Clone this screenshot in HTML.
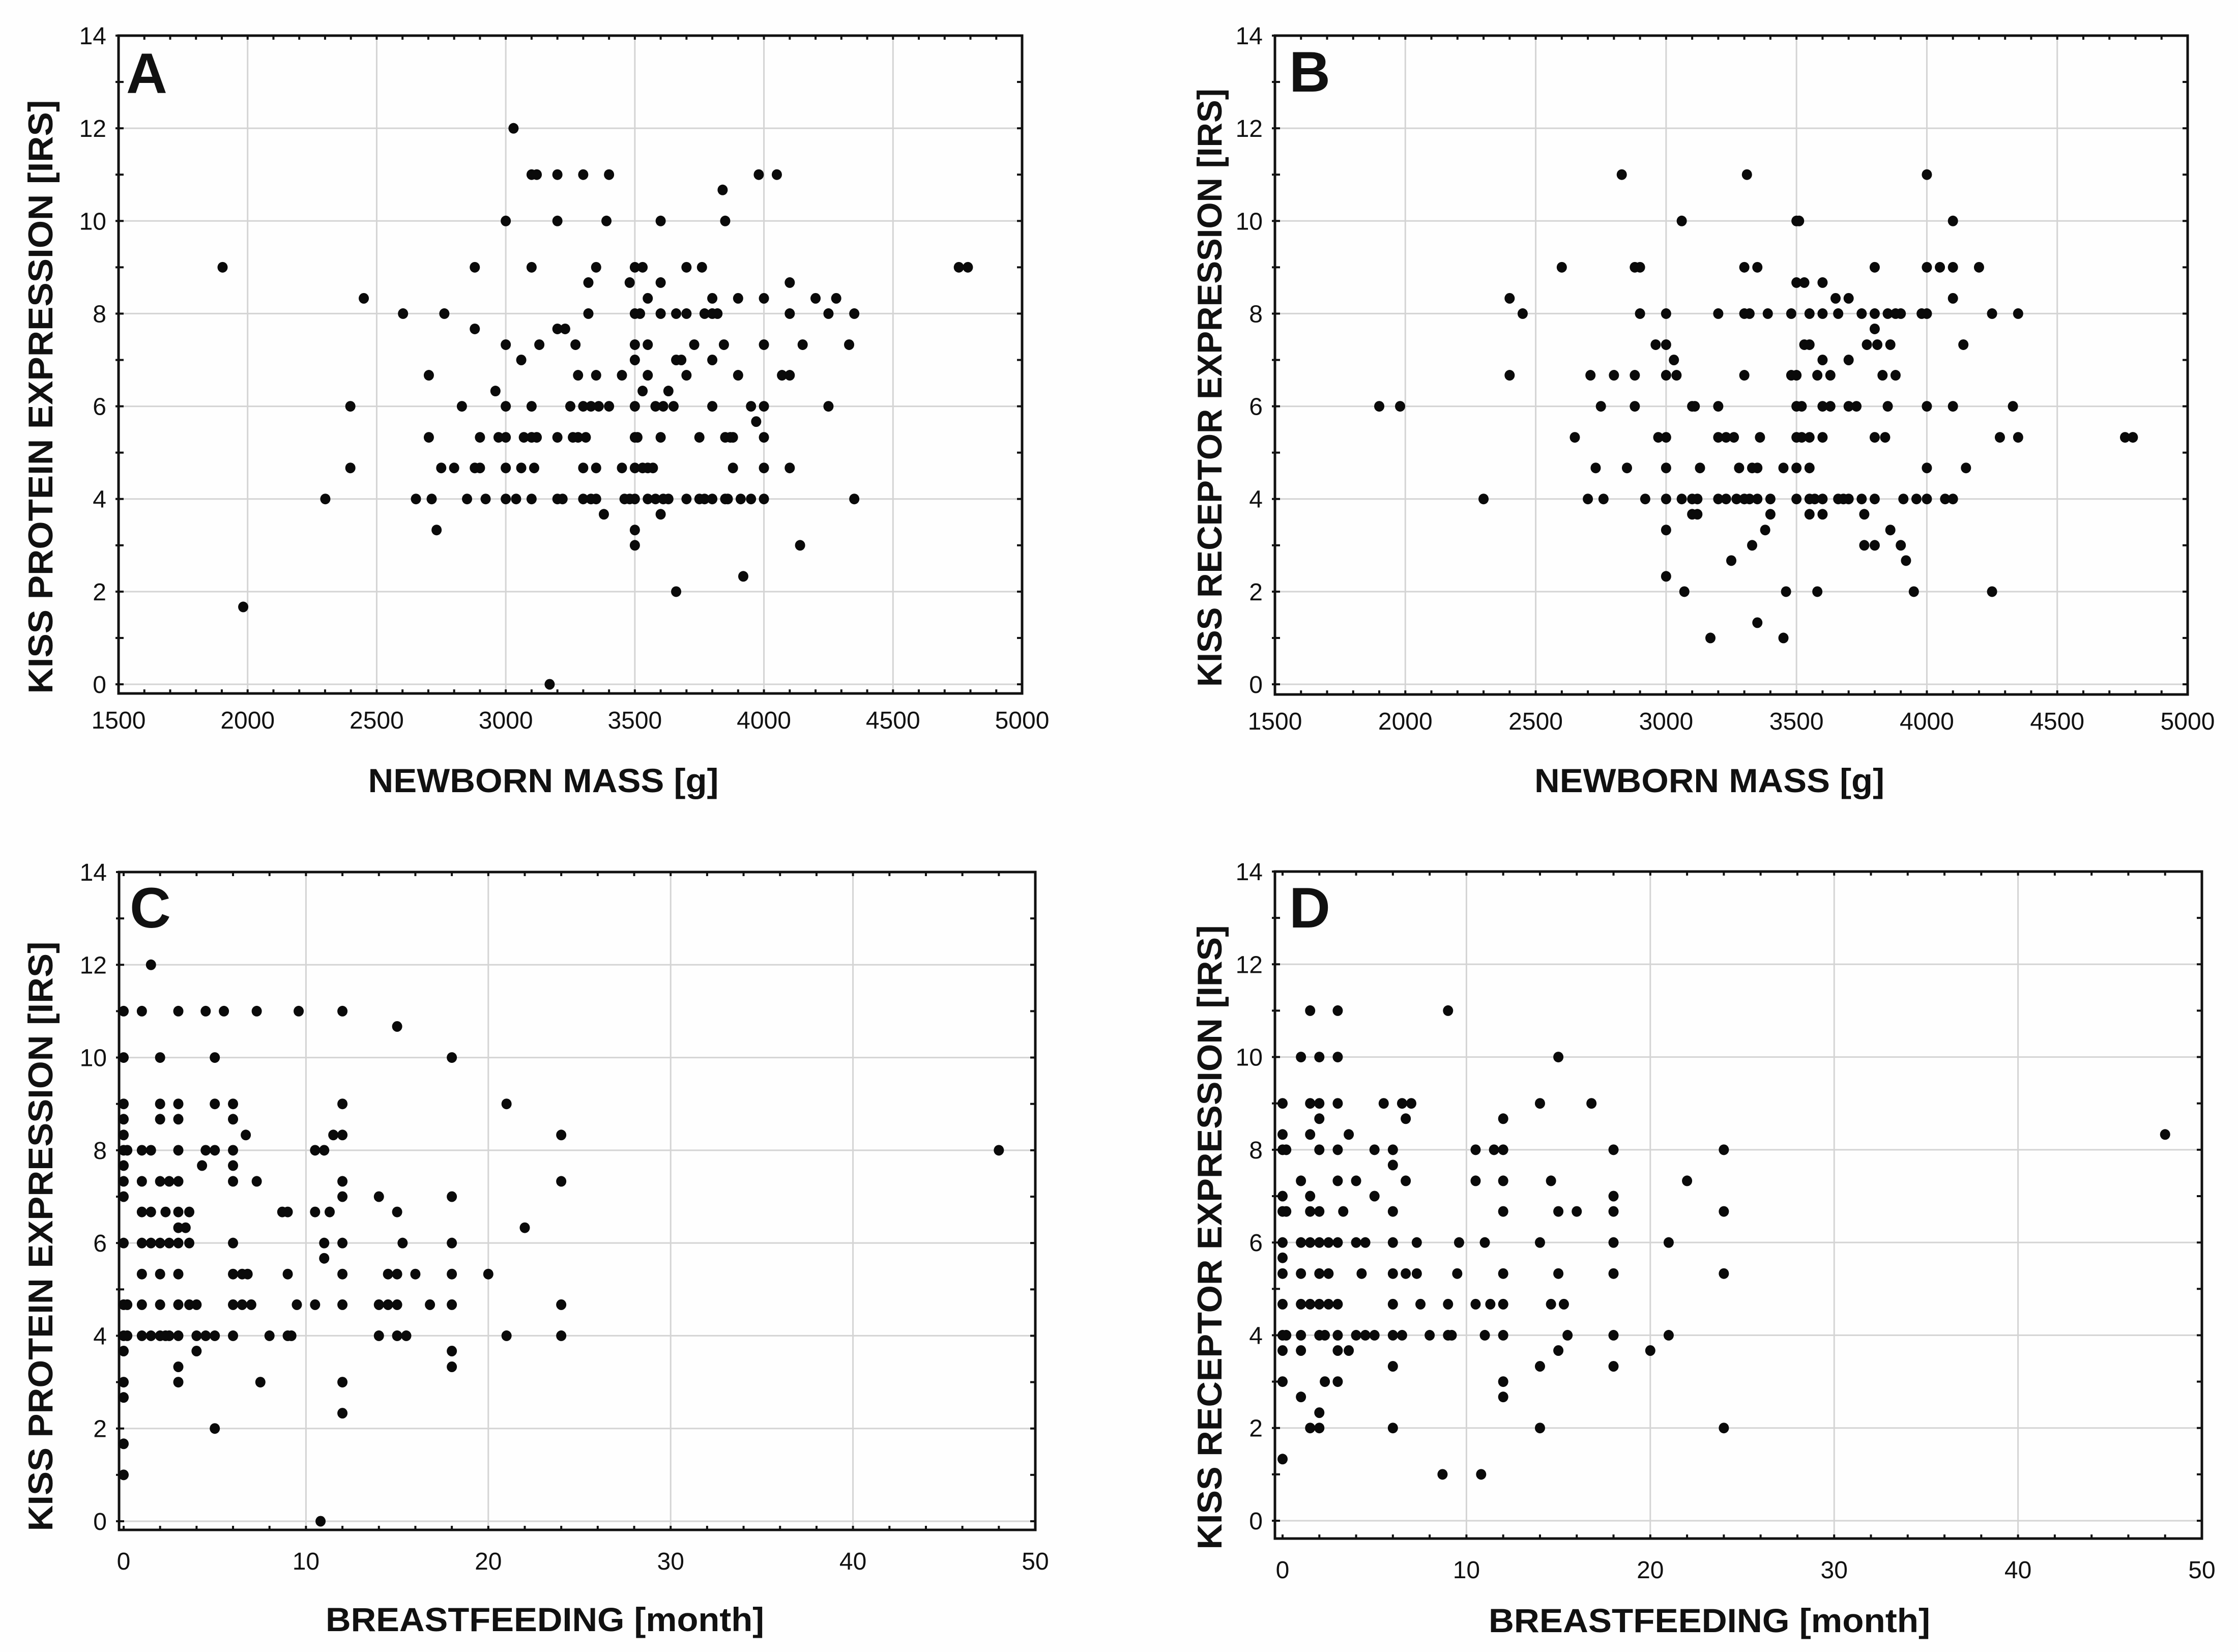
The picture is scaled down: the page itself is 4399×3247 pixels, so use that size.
<!DOCTYPE html>
<html><head><meta charset="utf-8">
<style>
html,body{margin:0;padding:0;background:#fefefe;}
svg{display:block;}
</style></head>
<body>
<svg id="chart" xmlns="http://www.w3.org/2000/svg" width="4399" height="3247" viewBox="0 0 4399 3247">
<rect x="0" y="0" width="4399" height="3247" fill="#fefefe"/>
</svg>
<script>
const aMass=[1903,1983,2301,2398,2398,2450,2602,2652,2702,2702,2713,2732,2750,2762,2800,2830,2850,2880,2880,2880,2900,2900,2922,2960,2972,3000,3000,3000,3000,3000,3000,3040,3030,3060,3060,3070,3100,3120,3100,3100,3100,3110,3100,3120,3130,3200,3200,3200,3230,3200,3200,3220,3170,3250,3260,3280,3270,3280,3300,3300,3330,3360,3400,3310,3300,3300,3330,3350,3320,3320,3350,3350,3350,3380,3390,3400,3450,3450,3460,3480,3500,3480,3500,3530,3500,3520,3500,3500,3500,3500,3510,3500,3530,3550,3570,3500,3500,3530,3550,3550,3550,3550,3580,3610,3630,3600,3600,3600,3580,3610,3600,3600,3630,3650,3660,3660,3680,3660,3700,3700,3700,3700,3730,3750,3750,3770,3760,3770,3800,3800,3820,3800,3800,3800,3840,3845,3850,3850,3870,3880,3850,3860,3880,3900,3900,3910,3920,3950,3950,3970,3980,4000,4000,4000,4000,4000,4000,4050,4070,4100,4100,4100,4100,4140,4150,4200,4250,4250,4280,4330,4350,4350,4755,4790];
const aIrs=[9,1.67,4,4.67,6,8.33,8,4,6.67,5.33,4,3.33,4.67,8,4.67,6,4,9,7.67,4.67,4.67,5.33,4,6.33,5.33,5.33,10,7.33,6,4.67,4,4,12,7,4.67,5.33,11,11,9,6,4,4.67,5.33,5.33,7.33,11,10,7.67,7.67,5.33,4,4,0,6,5.33,5.33,7.33,6.67,11,6,6,6,6,5.33,4.67,4,4,4,8.67,8,9,6.67,4.67,3.67,10,11,6.67,4.67,4,4,4,8.67,9,9,8,8,7.33,7,6,5.33,5.33,4.67,4.67,4.67,4.67,3.33,3,6.33,8.33,7.33,6.67,4,4,4,4,10,8.67,8,6,6,5.33,3.67,6.33,6,8,7,7,2,9,8,6.67,4,7.33,5.33,4,4,9,8,8.33,8,8,7,6,4,10.67,7.33,10,5.33,5.33,5.33,4,4,4.67,8.33,6.67,4,2.33,6,4,5.67,11,8.33,7.33,6,5.33,4.67,4,11,6.67,6.67,8.67,8,4.67,3,7.33,8.33,8,6,8.33,7.33,8,4,9,9];

const bMass=[1900,1980,2300,2400,2400,2450,2600,2650,2700,2710,2730,2750,2760,2800,2830,2850,2880,2900,2880,2880,2900,2920,2960,2970,3000,3000,3000,3000,3000,3000,3000,3000,3030,3040,3060,3060,3070,3100,3110,3100,3120,3100,3120,3130,3170,3200,3200,3200,3230,3260,3200,3230,3250,3270,3280,3300,3300,3320,3300,3300,3320,3310,3330,3350,3330,3350,3350,3350,3360,3380,3390,3400,3400,3450,3450,3460,3480,3480,3500,3500,3510,3500,3530,3500,3520,3500,3520,3550,3500,3500,3530,3550,3550,3550,3550,3570,3550,3580,3580,3600,3600,3600,3600,3630,3600,3600,3600,3630,3650,3660,3660,3680,3700,3700,3700,3700,3730,3750,3750,3760,3760,3770,3800,3800,3800,3800,3800,3800,3810,3830,3840,3850,3850,3860,3860,3880,3900,3880,3900,3910,3920,3950,3960,3980,4000,4000,4000,4000,4000,4000,4050,4070,4100,4100,4100,4100,4100,4140,4150,4200,4250,4250,4280,4330,4350,4350,4760,4790];
const bIrs=[6,6,4,8.33,6.67,8,9,5.33,4,6.67,4.67,6,4,6.67,11,4.67,9,9,6.67,6,8,4,7.33,5.33,5.33,7.33,8,6.67,4.67,4,3.33,2.33,7,6.67,10,4,2,6,6,4,4,3.67,3.67,4.67,1,8,6,5.33,5.33,5.33,4,4,2.67,4,4.67,9,8,8,6.67,4,4,11,4.67,4.67,3,9,4,1.33,5.33,3.33,8,4,3.67,4.67,1,2,8,6.67,6.67,10,10,8.67,8.67,6,6,5.33,5.33,5.33,4.67,4,7.33,7.33,8,4.67,4,4,3.67,6.67,2,8.67,8,7,6,6,5.33,4,3.67,6.67,8.33,8,4,4,4,8.33,7,6,6,8,4,3.67,3,7.33,9,8,7.67,5.33,4,3,7.33,6.67,5.33,8,6,7.33,3.33,8,8,6.67,3,4,2.67,2,4,8,8,11,9,6,4.67,4,9,4,10,9,8.33,6,4,7.33,4.67,9,8,2,5.33,6,8,5.33,5.33,5.33];

const cMonths=[0,0,0,0,0,0,0,0,0,0,0,0,0,0,0,0,0,0.2,0.2,0.2,1.5,1,3,4.5,5.5,7.3,9.6,12,15,2,5,18,2,3,5,6,12,21,2,3,6,6.7,11.5,12,24,1,1.5,3,4.5,5,6,10.5,11,48,4.3,6,1,2,2.5,3,6,7.3,12,24,12,14,18,1,1.5,2.3,3,3.6,8.7,9,10.5,11.3,15,3,3.4,22,1,1.5,2,2.5,3,3.6,6,11,12,15.3,18,11,1,2,3,6,6.5,6.8,9,12,14.5,15,16,18,20,1,2,3,3.6,4,6,6.5,7,9.5,10.5,12,14,14.5,15,16.8,18,24,1,1.5,2,2.3,2.5,3,4,4.5,5,6,8,9,9.2,14,15,15.5,21,24,4,18,3,18,3,7.5,12,12,5,10.8];
const cIrs=[11,10,9,8.67,8.33,8,7.67,7.33,7,6,4.67,4,3.67,3,2.67,1.67,1,8,4.67,4,12,11,11,11,11,11,11,11,10.67,10,10,10,9,9,9,9,9,9,8.67,8.67,8.67,8.33,8.33,8.33,8.33,8,8,8,8,8,8,8,8,8,7.67,7.67,7.33,7.33,7.33,7.33,7.33,7.33,7.33,7.33,7,7,7,6.67,6.67,6.67,6.67,6.67,6.67,6.67,6.67,6.67,6.67,6.33,6.33,6.33,6,6,6,6,6,6,6,6,6,6,6,5.67,5.33,5.33,5.33,5.33,5.33,5.33,5.33,5.33,5.33,5.33,5.33,5.33,5.33,4.67,4.67,4.67,4.67,4.67,4.67,4.67,4.67,4.67,4.67,4.67,4.67,4.67,4.67,4.67,4.67,4.67,4,4,4,4,4,4,4,4,4,4,4,4,4,4,4,4,4,4,3.67,3.67,3.33,3.33,3,3,3,2.33,2,0];

const dMonths=[1.5,3,9,1,2,3,15,0,1.5,2,3,5.5,6.5,7,14,16.8,2,6.7,12,0,1.5,3.6,48,0,0.2,2,3,5,6,10.5,11.5,12,18,24,6,1,3,4,6.7,10.5,12,14.6,22,0,1.5,5,18,0,0.2,1.5,2,3.3,6,12,15,16,18,24,0,1,1.5,2,2.5,3,4,4.5,6,7.3,9.6,11,14,18,21,0,0,1,2,2.5,4.3,6,6.7,7.3,9.5,12,15,18,24,0,1,1.5,2,2.5,3,6,7.5,9,10.5,11.3,12,14.6,15.3,0,0.2,1,2,2.3,3,4,4.5,5,6,6.5,8,9,9.2,11,12,15.5,18,21,0,1,3,3.6,15,20,6,14,18,0,2.3,3,12,1,12,2,1.5,2,6,14,24,0,8.7,10.8];
const dIrs=[11,11,11,10,10,10,10,9,9,9,9,9,9,9,9,9,8.67,8.67,8.67,8.33,8.33,8.33,8.33,8,8,8,8,8,8,8,8,8,8,8,7.67,7.33,7.33,7.33,7.33,7.33,7.33,7.33,7.33,7,7,7,7,6.67,6.67,6.67,6.67,6.67,6.67,6.67,6.67,6.67,6.67,6.67,6,6,6,6,6,6,6,6,6,6,6,6,6,6,6,5.67,5.33,5.33,5.33,5.33,5.33,5.33,5.33,5.33,5.33,5.33,5.33,5.33,5.33,4.67,4.67,4.67,4.67,4.67,4.67,4.67,4.67,4.67,4.67,4.67,4.67,4.67,4.67,4,4,4,4,4,4,4,4,4,4,4,4,4,4,4,4,4,4,4,3.67,3.67,3.67,3.67,3.67,3.67,3.33,3.33,3.33,3,3,3,3,2.67,2.67,2.33,2,2,2,2,2,1.33,1,1];

const massTicks=[1500,2000,2500,3000,3500,4000,4500,5000];
const monthTicks=[0,10,20,30,40,50];
const irsTicks=[0,2,4,6,8,10,12,14];

const NS="http://www.w3.org/2000/svg";
const svg=document.getElementById('chart');
function mk(tag,attrs,parent){const e=document.createElementNS(NS,tag);for(const k in attrs)e.setAttribute(k,attrs[k]);(parent||svg).appendChild(e);return e;}

function drawPanel(p){
  const g=mk('g',{});
  
  
  const sx=v=>p.x0px+(v-p.xMin)/(p.xMax-p.xMin)*(p.x1px-p.x0px);
  const sy=v=>p.y0px+(v-0)/(14-0)*(p.y14px-p.y0px);
  // grid
  p.xTicks.forEach(t=>{ if(t>p.xMin&&t<p.xMax){const l=mk('line',{x1:sx(t),x2:sx(t),y1:p.top,y2:p.bottom,stroke:'#d4d4d4','stroke-width':3},g);
    
    }});
  irsTicks.forEach(t=>{ if(t>0&&t<14){const l=mk('line',{x1:p.left,x2:p.right,y1:sy(t),y2:sy(t),stroke:'#d4d4d4','stroke-width':3},g);
    
    }});
  {const l=mk('line',{x1:p.left,x2:p.right,y1:sy(0),y2:sy(0),stroke:'#d4d4d4','stroke-width':3},g);
    
    }
  // minor ticks
  for(let v=p.xMin;v<=p.xMax+1e-9;v+=p.minorX){
    const x=sx(v);
    mk('line',{x1:x,x2:x,y1:p.bottom,y2:p.bottom-8,stroke:'#111','stroke-width':4},g);
    mk('line',{x1:x,x2:x,y1:p.top,y2:p.top+8,stroke:'#111','stroke-width':4},g);
  }
  for(let v=0;v<=14;v+=1){
    const y=sy(v);
    mk('line',{x1:p.left-6,x2:p.left+10,y1:y,y2:y,stroke:'#111','stroke-width':4},g);
    mk('line',{x1:p.right-10,x2:p.right,y1:y,y2:y,stroke:'#111','stroke-width':4},g);
  }
  // frame
  const fr=mk('rect',{x:p.left,y:p.top,width:p.right-p.left,height:p.bottom-p.top,fill:'none',stroke:'#111','stroke-width':5},g);
  
  
  // tick labels
  p.xTicks.forEach(t=>{const tx=mk('text',{x:sx(t),y:p.bottom+p.xLabelDy,'text-anchor':'middle','font-family':'"Liberation Sans Narrow","Liberation Sans",sans-serif','font-size':48,fill:'#111'},g);
    tx.textContent=t;
    
    });
  irsTicks.forEach(t=>{const tx=mk('text',{x:p.left-24,y:sy(t)+17,'text-anchor':'end','font-family':'"Liberation Sans Narrow","Liberation Sans",sans-serif','font-size':48,fill:'#111'},g);
    tx.textContent=t;
    
    });
  // points
  for(let i=0;i<p.xs.length;i++){
    const c=mk('ellipse',{cx:sx(p.xs[i]),cy:sy(p.ys[i]),rx:10,ry:10.5,fill:'#0a0a0a'},g);
    
    
  }
  // panel letter
  const L=mk('text',{x:p.letterX,y:p.letterY,'font-family':'"Liberation Sans",sans-serif','font-weight':'bold','font-size':112,fill:'#111'},g);
  L.textContent=p.id;
  
  
  // axis titles
  const xt=mk('text',{x:p.xTitleX,y:p.xTitleY,'text-anchor':'middle','font-family':'"Liberation Sans Narrow","Liberation Sans",sans-serif','font-weight':'bold','font-size':66,fill:'#111',textLength:p.xTitleLen,lengthAdjust:'spacingAndGlyphs'},g);
  xt.textContent=p.xTitle;
  
  
  const yt=mk('text',{x:0,y:0,'text-anchor':'middle','font-family':'"Liberation Sans",sans-serif','font-weight':'bold','font-size':68,fill:'#111',textLength:p.yTitleLen,lengthAdjust:'spacingAndGlyphs',transform:`translate(${p.yTitleX},${p.yTitleY}) rotate(-90)`},g);
  yt.textContent=p.yTitle;
  
  
}

drawPanel({id:'A',xs:aMass,ys:aIrs,xMin:1500,xMax:5000,xTicks:massTicks,minorX:100,
  left:233,right:2009,top:70,bottom:1363,x0px:233,x1px:2009,y14px:70,y0px:1345,xLabelDy:69,
  letterX:248,letterY:183,xTitle:'NEWBORN MASS [g]',xTitleX:1068,xTitleY:1557,xTitleLen:689,
  yTitle:'KISS PROTEIN EXPRESSION [IRS]',yTitleX:103,yTitleY:780,yTitleLen:1167});
drawPanel({id:'B',xs:bMass,ys:bIrs,xMin:1500,xMax:5000,xTicks:massTicks,minorX:100,
  left:2506,right:4300,top:70,bottom:1365,x0px:2506,x1px:4300,y14px:70,y0px:1345,xLabelDy:69,
  letterX:2534,letterY:180,xTitle:'NEWBORN MASS [g]',xTitleX:3360,xTitleY:1557,xTitleLen:688,
  yTitle:'KISS RECEPTOR EXPRESSION [IRS]',yTitleX:2401,yTitleY:762,yTitleLen:1176});
drawPanel({id:'C',xs:cMonths,ys:cIrs,xMin:0,xMax:50,xTicks:monthTicks,minorX:2,
  left:234,right:2035,top:1714,bottom:3007,x0px:243,x1px:2035,y14px:1714,y0px:2990,xLabelDy:78,
  letterX:255,letterY:1823,xTitle:'BREASTFEEDING [month]',xTitleX:1071,xTitleY:3206,xTitleLen:862,
  yTitle:'KISS PROTEIN EXPRESSION [IRS]',yTitleX:103,yTitleY:2430,yTitleLen:1159});
drawPanel({id:'D',xs:dMonths,ys:dIrs,xMin:0,xMax:50,xTicks:monthTicks,minorX:2,
  left:2506,right:4328,top:1713,bottom:3024,x0px:2521,x1px:4328,y14px:1713,y0px:2989,xLabelDy:78,
  letterX:2534,letterY:1823,xTitle:'BREASTFEEDING [month]',xTitleX:3360,xTitleY:3208,xTitleLen:868,
  yTitle:'KISS RECEPTOR EXPRESSION [IRS]',yTitleX:2401,yTitleY:2432,yTitleLen:1227});
</script>
</body></html>
